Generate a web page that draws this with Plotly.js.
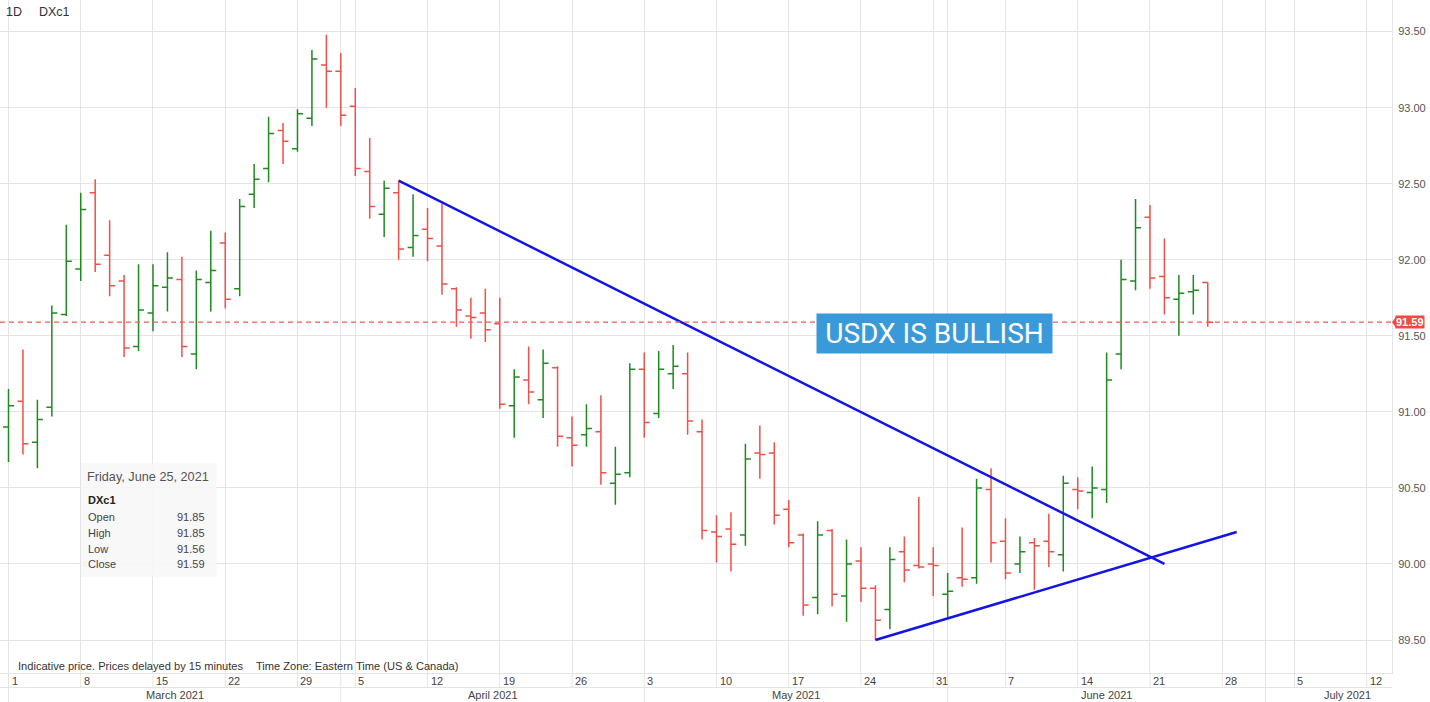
<!DOCTYPE html>
<html>
<head>
<meta charset="utf-8">
<script src="https://cdn.plot.ly/plotly-3.0.1.min.js"></script>
<style>
html,body{margin:0;padding:0;background:#ffffff;}
#chart{width:1430px;height:702px;}
</style>
</head>
<body>
<div id="chart"></div>
<script>
// ---------------- DATA ----------------
const symbol = 'DXc1';
const interval = '1D';

const dates = [
  '2021-03-01','2021-03-02','2021-03-03','2021-03-04','2021-03-05',
  '2021-03-08','2021-03-09','2021-03-10','2021-03-11','2021-03-12',
  '2021-03-15','2021-03-16','2021-03-17','2021-03-18','2021-03-19',
  '2021-03-22','2021-03-23','2021-03-24','2021-03-25','2021-03-26',
  '2021-03-29','2021-03-30','2021-03-31','2021-04-01',
  '2021-04-05','2021-04-06','2021-04-07','2021-04-08','2021-04-09',
  '2021-04-12','2021-04-13','2021-04-14','2021-04-15','2021-04-16',
  '2021-04-19','2021-04-20','2021-04-21','2021-04-22','2021-04-23',
  '2021-04-26','2021-04-27','2021-04-28','2021-04-29','2021-04-30',
  '2021-05-03','2021-05-04','2021-05-05','2021-05-06','2021-05-07',
  '2021-05-10','2021-05-11','2021-05-12','2021-05-13','2021-05-14',
  '2021-05-17','2021-05-18','2021-05-19','2021-05-20','2021-05-21',
  '2021-05-24','2021-05-25','2021-05-26','2021-05-27','2021-05-28',
  '2021-05-31','2021-06-01','2021-06-02','2021-06-03','2021-06-04',
  '2021-06-07','2021-06-08','2021-06-09','2021-06-10','2021-06-11',
  '2021-06-14','2021-06-15','2021-06-16','2021-06-17','2021-06-18',
  '2021-06-21','2021-06-22','2021-06-23','2021-06-24','2021-06-25'
];

const open = [
  90.90,91.07,90.80,91.03,91.64, 91.94,92.44,92.03,91.86,91.43,
  91.65,91.82,91.87,91.38,91.85, 92.11,91.81,92.43,92.60,92.85,
  92.73,92.93,93.28,93.24, 93.01,92.58,92.30,92.44,92.08,
  92.20,92.09,91.81,91.63,91.65, 91.58,91.04,91.21,91.08,91.29,
  90.83,90.85,90.87,90.53,90.60, 91.28,90.99,91.25,91.25,90.87,
  90.21,90.23,90.19,90.73,90.73, 90.36,90.19,89.78,90.22,89.79,
  90.02,89.84,89.70,90.08,89.99, 90.00,89.80,89.91,89.91,90.49,
  90.15,90.00,90.14,90.15,90.06, 90.49,90.47,90.49,91.38,91.86,
  92.28,91.89,91.74,91.79,91.85
];
const high = [
  91.15,91.41,91.08,91.70,92.23, 92.44,92.53,92.26,91.90,91.97,
  91.97,92.05,92.02,91.93,92.19, 92.18,92.40,92.63,92.94,92.90,
  92.99,93.38,93.48,93.36, 93.13,92.80,92.52,92.52,92.43,
  92.34,92.37,91.82,91.75,91.81, 91.75,91.28,91.43,91.41,91.30,
  90.97,91.05,91.11,90.77,91.32, 91.39,91.40,91.44,91.39,90.95,
  90.32,90.34,90.79,90.91,90.80, 90.42,90.20,90.28,90.23,90.16,
  90.11,89.86,90.11,90.18,90.44, 90.11,89.94,90.24,90.56,90.63,
  90.30,90.18,90.17,90.33,90.58, 90.57,90.64,91.39,92.00,92.40,
  92.36,92.14,91.90,91.90,91.85
];
const low = [
  90.67,90.72,90.63,90.97,91.63, 91.86,91.92,91.76,91.36,91.40,
  91.53,91.66,91.36,91.28,91.66, 91.68,91.76,92.34,92.51,92.63,
  92.71,92.88,93.00,92.88, 92.55,92.27,92.15,92.00,92.02,
  91.99,91.77,91.56,91.48,91.46, 91.02,90.83,91.05,90.96,90.77,
  90.64,90.77,90.52,90.39,90.57, 90.83,90.96,91.15,90.85,90.16,
  90.01,89.95,90.12,90.56,90.26, 90.11,89.66,89.67,89.72,89.62,
  89.75,89.50,89.57,89.88,89.97, 89.79,89.65,89.85,89.87,90.01,
  89.90,89.94,89.83,89.98,89.95, 90.36,90.30,90.40,91.28,91.80,
  91.81,91.64,91.50,91.64,91.56
];
const close = [
  91.04,90.79,90.95,91.65,91.99, 92.33,91.97,91.83,91.42,91.67,
  91.83,91.88,91.43,91.87,91.93, 91.74,92.35,92.53,92.83,92.78,
  92.96,93.32,93.24,92.95, 92.60,92.35,92.47,92.07,92.16,
  92.14,91.84,91.67,91.62,91.54, 91.05,91.23,91.13,91.32,90.84,
  90.78,90.89,90.60,90.59,91.28, 90.93,91.28,91.30,90.94,90.22,
  90.18,90.13,90.69,90.72,90.32, 90.14,89.73,90.19,89.80,90.00,
  89.84,89.63,90.03,89.96,89.98, 89.99,89.82,89.90,90.50,90.14,
  89.94,90.08,90.12,90.08,90.53, 90.48,90.50,91.21,91.87,92.21,
  91.88,91.75,91.78,91.80,91.59
];

const holidays = ['2021-04-02'];

const trendDownDates = ['2021-04-08','2021-06-22'];
const trendDownValues = [92.52, 90.00];
const trendUpDates = ['2021-05-25','2021-06-29'];
const trendUpValues = [89.50, 90.21];

const yTicks = [89.5, 90.0, 90.5, 91.0, 91.5, 92.0, 92.5, 93.0, 93.5];

const weekStarts = [
  '2021-03-01','2021-03-08','2021-03-15','2021-03-22','2021-03-29',
  '2021-04-05','2021-04-12','2021-04-19','2021-04-26','2021-05-03',
  '2021-05-10','2021-05-17','2021-05-24','2021-05-31','2021-06-07',
  '2021-06-14','2021-06-21','2021-06-28','2021-07-05','2021-07-12'
];
const monthStarts = ['2021-03-01','2021-04-01','2021-05-03','2021-06-01','2021-07-01'];
const monthLabels = ['March 2021','April 2021','May 2021','June 2021','July 2021'];

const calloutText = 'USDX IS BULLISH';
const noteText = 'Indicative price. Prices delayed by 15 minutes';
const tzText = 'Time Zone: Eastern Time (US & Canada)';

// ---------------- HELPERS ----------------
const DAY = 86400000;
const origin = Date.UTC(2021, 2, 1);
function tIndex(s) {
  const p = s.split('-').map(Number);
  const t = Date.UTC(p[0], p[1] - 1, p[2]);
  let n = 0;
  for (let u = origin; u < t; u += DAY) {
    const d = new Date(u);
    const wd = d.getUTCDay();
    const iso = d.toISOString().slice(0, 10);
    if (wd !== 0 && wd !== 6 && holidays.indexOf(iso) < 0) n++;
  }
  return n;
}

const W = 1430, H = 702;
const M = {l: 0, r: 38, t: 0, b: 29};
const PW = W - M.l - M.r, PH = H - M.t - M.b;
const PX = x => x / PW;
const PY = y => 1 - y / PH;

const xs = dates.map(tIndex);
const xRange = [-0.588, 95.75];
const yRange = [89.283, 93.708];

const weekIdx = weekStarts.map(tIndex);
const monthIdx = monthStarts.map(tIndex);
const gridIdx = Array.from(new Set(weekIdx.concat(monthIdx))).sort((a, b) => a - b);

const last = dates.length - 1;
const lastClose = close[last];

const font = 'Liberation Sans, Arial, sans-serif';
const gridColor = '#e4e4e4';
const textColor = '#444444';

// ---------------- TRACES ----------------
const traces = [
  {
    type: 'ohlc',
    x: xs, open: open, high: high, low: low, close: close,
    increasing: {line: {color: '#1f8a1f', width: 1.5}},
    decreasing: {line: {color: '#ef5049', width: 1.5}},
    tickwidth: 0.38,
    hoverinfo: 'skip',
    showlegend: false
  },
  {
    type: 'scatter', mode: 'lines',
    x: trendDownDates.map(tIndex), y: trendDownValues,
    line: {color: '#1414e6', width: 2.5},
    hoverinfo: 'skip', showlegend: false
  },
  {
    type: 'scatter', mode: 'lines',
    x: trendUpDates.map(tIndex), y: trendUpValues,
    line: {color: '#1414e6', width: 2.5},
    hoverinfo: 'skip', showlegend: false
  }
];

// ---------------- SHAPES ----------------
const shapes = [];
shapes.push({type: 'line', xref: 'paper', x0: 0, x1: 1, yref: 'y', y0: lastClose, y1: lastClose,
  line: {color: '#f25a55', width: 1.2, dash: '5px,4px'}});
shapes.push({type: 'path', xref: 'paper', xsizemode: 'pixel', xanchor: 1,
  yref: 'y', ysizemode: 'pixel', yanchor: lastClose,
  path: 'M0,0 L4,5.5 L4,-5.5 Z', fillcolor: '#ee4a43', line: {width: 0}});
const rowY = PY(687.5), bottomY = PY(702);
shapes.push({type: 'line', xref: 'paper', x0: 0, x1: 1, yref: 'paper', y0: rowY, y1: rowY,
  line: {color: gridColor, width: 1}});
gridIdx.forEach(i => {
  shapes.push({type: 'line', xref: 'x', x0: i, x1: i, yref: 'paper', y0: 0, y1: rowY,
    line: {color: gridColor, width: 1}});
});
monthIdx.forEach(i => {
  shapes.push({type: 'line', xref: 'x', x0: i, x1: i, yref: 'paper', y0: rowY, y1: bottomY,
    line: {color: gridColor, width: 1}});
});
shapes.push({type: 'rect', xref: 'paper', yref: 'paper',
  x0: PX(81), x1: PX(216.7), y0: PY(463.3), y1: PY(576.7),
  fillcolor: 'rgba(247,247,247,0.88)', line: {width: 0}});

// ---------------- ANNOTATIONS ----------------
const ann = [];
const txt = (text, x, y, opts) => Object.assign({
  text: text, xref: 'paper', yref: 'paper', x: PX(x), y: PY(y),
  xanchor: 'left', yanchor: 'middle', showarrow: false,
  font: {family: font, size: 11, color: textColor}
}, opts || {});

ann.push(txt(interval, 4, 12, {font: {family: font, size: 12.5, color: '#333'}}));
ann.push(txt(symbol, 37, 12, {font: {family: font, size: 12.5, color: '#333'}}));
ann.push(txt(noteText, 15.5, 665.5, {font: {family: font, size: 11.1, color: '#333'}}));
ann.push(txt(tzText, 254, 665.5, {font: {family: font, size: 11.1, color: '#333'}}));

weekStarts.forEach((d, k) => {
  ann.push({text: String(Number(d.split('-')[2])), xref: 'x', x: weekIdx[k], xanchor: 'left', xshift: 1,
    yref: 'paper', y: PY(680.5), yanchor: 'middle', showarrow: false,
    font: {family: font, size: 11, color: textColor}});
});
const xRightPad = xRange[1] + M.r / (PW / (xRange[1] - xRange[0]));
monthLabels.forEach((m, k) => {
  const a = monthIdx[k];
  const b = k < monthIdx.length - 1 ? monthIdx[k + 1] : xRightPad;
  ann.push({text: m, xref: 'x', x: (a + b) / 2, xanchor: 'center',
    yref: 'paper', y: PY(695), yanchor: 'middle', showarrow: false,
    font: {family: font, size: 11, color: textColor}});
});

const dLast = new Date(dates[last] + 'T00:00:00Z');
const dateStr = dLast.toLocaleDateString('en-US', {weekday: 'long', year: 'numeric', month: 'long', day: 'numeric', timeZone: 'UTC'});
ann.push(txt(dateStr, 85, 476.7, {font: {family: font, size: 12.7, color: '#555'}}));
ann.push(txt('<b>' + symbol + '</b>', 85.5, 500, {font: {family: font, size: 11, color: '#222'}}));
const rows = [['Open', open[last]], ['High', high[last]], ['Low', low[last]], ['Close', close[last]]];
const rowYs = [516.7, 533, 548.8, 564.2];
rows.forEach((r, k) => {
  ann.push(txt(r[0], 85.5, rowYs[k], {font: {family: font, size: 11, color: '#444'}}));
  ann.push(txt(r[1].toFixed(2), 207, rowYs[k], {xanchor: 'right', font: {family: font, size: 11, color: '#444'}}));
});

ann.push({text: '<b>' + lastClose.toFixed(2) + '</b>', xref: 'paper', x: 1, xanchor: 'left', xshift: 3,
  yref: 'y', y: lastClose, yanchor: 'middle', showarrow: false, bgcolor: '#ee4a43', borderpad: 0,
  font: {family: font, size: 11, color: '#ffffff'}});

ann.push({text: calloutText, xref: 'paper', x: PX(934.5), xanchor: 'center',
  yref: 'paper', y: PY(333), yanchor: 'middle', showarrow: false,
  bgcolor: '#3a9ad9', borderpad: 2, width: 231, height: 35,
  font: {family: 'Roboto, Liberation Sans, sans-serif', size: 28, color: '#ffffff'}});

// ---------------- LAYOUT ----------------
const layout = {
  width: W, height: H,
  margin: M,
  paper_bgcolor: '#ffffff', plot_bgcolor: '#ffffff',
  font: {family: font, size: 11, color: textColor},
  showlegend: false,
  xaxis: {
    range: xRange, tickmode: 'array', tickvals: gridIdx, showticklabels: false,
    showgrid: true, gridcolor: gridColor, gridwidth: 1, zeroline: false,
    showline: true, linecolor: gridColor, linewidth: 1, ticks: '',
    rangeslider: {visible: false}, fixedrange: true
  },
  yaxis: {
    side: 'right', range: yRange, tickmode: 'array', tickvals: yTicks,
    ticktext: yTicks.map(v => v.toFixed(2)),
    showgrid: true, gridcolor: gridColor, gridwidth: 1, zeroline: false,
    showline: true, linecolor: gridColor, linewidth: 1, ticks: '',
    ticklabelstandoff: 3,
    tickfont: {family: font, size: 11, color: '#555'}, fixedrange: true
  },
  shapes: shapes,
  annotations: ann
};

Plotly.newPlot('chart', traces, layout, {displayModeBar: false, staticPlot: true});
</script>
</body>
</html>
